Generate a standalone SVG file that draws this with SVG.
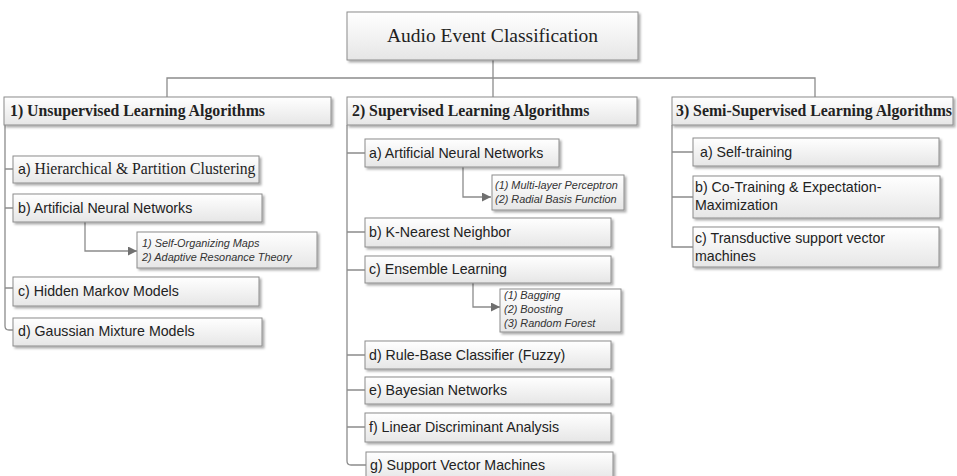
<svg xmlns="http://www.w3.org/2000/svg" width="957" height="476" viewBox="0 0 957 476">
<defs>
<linearGradient id="g" x1="0" y1="0" x2="0" y2="1">
<stop offset="0" stop-color="#ffffff"/>
<stop offset="1" stop-color="#e6e6e6"/>
</linearGradient>
<filter id="sh" x="-5%" y="-20%" width="112%" height="150%">
<feDropShadow dx="2" dy="2" stdDeviation="1.3" flood-color="#000" flood-opacity="0.32"/>
</filter>
<marker id="ah" viewBox="0 0 10 10" refX="10" refY="5" markerWidth="10" markerHeight="9" markerUnits="userSpaceOnUse" orient="auto">
<path d="M0,0 L10,5 L0,10 z" fill="#707070"/>
</marker>
<style>
.box{fill:url(#g);stroke:#8c8c8c;stroke-width:1;filter:url(#sh)}
.ln{fill:none;stroke:#8c8c8c;stroke-width:1.3}
.ar{fill:none;stroke:#8c8c8c;stroke-width:1.3;marker-end:url(#ah)}
.t{font-family:"Liberation Serif","Times New Roman",serif;font-size:19.5px;fill:#222}
.h{font-family:"Liberation Serif","Times New Roman",serif;font-size:15.8px;font-weight:bold;fill:#222}
.s{font-family:"Liberation Sans",Arial,sans-serif;font-size:14.2px;fill:#222}
.sr{font-family:"Liberation Serif","Times New Roman",serif;font-size:15.7px;fill:#222}
.i{font-family:"Liberation Sans",Arial,sans-serif;font-size:10.9px;font-style:italic;fill:#333}
</style>
</defs>
<rect width="957" height="476" fill="#fff"/>

<g id="connectors">
<path class="ln" d="M493,60 V97"/>
<path class="ln" d="M167,97 V78 H815 V97"/>
<path class="ln" d="M5,125 V326 Q5,330 9,330 H13"/>
<path class="ln" d="M5,169 H13 M5,208 H13 M5,288 H13"/>
<path class="ln" d="M347,125 V461 Q347,465 351,465 H366"/>
<path class="ln" d="M347,153 H365 M347,232 H365 M347,270 H365 M347,355 H365 M347,390 H365 M347,427 H365"/>
<path class="ln" d="M672,125 V247 H693 M672,152 H693 M672,197 H693"/>
<path class="ar" d="M85,222 V251 H137"/>
<path class="ar" d="M463,167 V197 H491"/>
<path class="ar" d="M473,283 V307 H500"/>
</g>

<g id="root">
<rect class="box" x="347" y="12" width="291" height="48"/>
<text class="t" x="492.5" y="42" text-anchor="middle">Audio Event Classification</text>
</g>

<g id="unsupervised">
<rect class="box" x="4" y="97" width="327" height="28"/>
<text class="h" x="10" y="116">1)  Unsupervised Learning Algorithms</text>
</g>
<g id="supervised">
<rect class="box" x="347" y="97" width="290" height="28"/>
<text class="h" x="352" y="116">2) Supervised Learning Algorithms</text>
</g>
<g id="semisupervised">
<rect class="box" x="672" y="97" width="281" height="28"/>
<text class="h" x="676" y="116">3) Semi-Supervised Learning Algorithms</text>
</g>

<g id="u-a">
<rect class="box" x="13" y="156" width="246" height="27"/>
<text x="18" y="174"><tspan class="s">a) </tspan><tspan class="sr">Hierarchical &amp; Partition Clustering</tspan></text>
</g>
<g id="u-b">
<rect class="box" x="13" y="194" width="249" height="28"/>
<text class="s" x="18" y="213">b) Artificial Neural Networks</text>
</g>
<g id="u-b-sub">
<rect class="box" x="137" y="232" width="180" height="36"/>
<text class="i" x="142" y="247">1) Self-Organizing Maps</text>
<text class="i" x="142" y="261">2) Adaptive Resonance Theory</text>
</g>
<g id="u-c">
<rect class="box" x="13" y="277" width="246" height="29"/>
<text class="s" x="18" y="296">c) Hidden Markov Models</text>
</g>
<g id="u-d">
<rect class="box" x="13" y="318" width="249" height="28"/>
<text class="s" x="18" y="336">d) Gaussian Mixture Models</text>
</g>

<g id="s-a">
<rect class="box" x="365" y="139" width="194" height="28"/>
<text class="s" x="369" y="158">a) Artificial Neural Networks</text>
</g>
<g id="s-a-sub">
<rect class="box" x="492" y="175" width="132" height="35"/>
<text class="i" x="495" y="189">(1) Multi-layer Perceptron</text>
<text class="i" x="495" y="203">(2) Radial Basis Function</text>
</g>
<g id="s-b">
<rect class="box" x="365" y="218" width="246" height="29"/>
<text class="s" x="369" y="237">b) K-Nearest Neighbor</text>
</g>
<g id="s-c">
<rect class="box" x="365" y="256" width="246" height="27"/>
<text class="s" x="369" y="274">c) Ensemble Learning</text>
</g>
<g id="s-c-sub">
<rect class="box" x="500" y="289" width="121" height="43"/>
<text class="i" x="504" y="299">(1) Bagging</text>
<text class="i" x="504" y="313">(2) Boosting</text>
<text class="i" x="504" y="327">(3) Random Forest</text>
</g>
<g id="s-d">
<rect class="box" x="365" y="341" width="246" height="28"/>
<text class="s" x="369" y="360">d) Rule-Base Classifier (Fuzzy)</text>
</g>
<g id="s-e">
<rect class="box" x="365" y="377" width="246" height="27"/>
<text class="s" x="369" y="395">e) Bayesian Networks</text>
</g>
<g id="s-f">
<rect class="box" x="365" y="413" width="246" height="29"/>
<text class="s" x="369" y="432">f) Linear Discriminant Analysis</text>
</g>
<g id="s-g">
<rect class="box" x="366" y="452" width="247" height="28"/>
<text class="s" x="370" y="470">g) Support Vector Machines</text>
</g>

<g id="ss-a">
<rect class="box" x="693" y="138" width="246" height="28"/>
<text class="s" x="700" y="157">a) Self-training</text>
</g>
<g id="ss-b">
<rect class="box" x="693" y="176" width="247" height="42"/>
<text class="s" x="695" y="192">b) Co-Training &amp; Expectation-</text>
<text class="s" x="695" y="210">Maximization</text>
</g>
<g id="ss-c">
<rect class="box" x="693" y="227" width="246" height="40"/>
<text class="s" x="695" y="243">c) Transductive support vector</text>
<text class="s" x="695" y="261">machines</text>
</g>
</svg>
